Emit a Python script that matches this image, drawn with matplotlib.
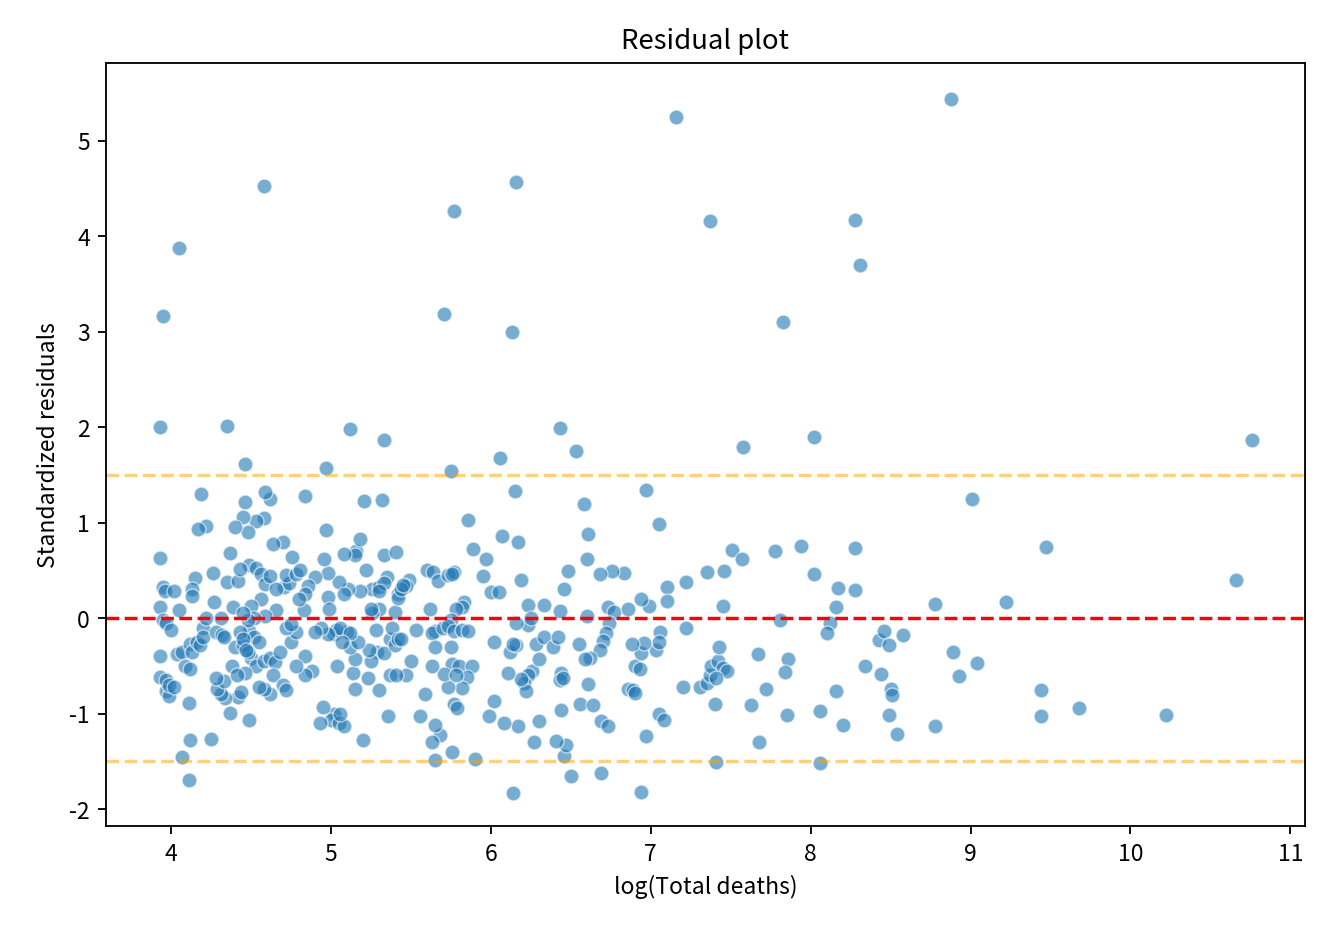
import numpy as np
import matplotlib.pyplot as plt

plt.rcParams['font.family'] = ['Noto Sans CJK KR', 'DejaVu Sans']
plt.rcParams['axes.unicode_minus'] = False

points = [
    # high outliers
    (3.95,3.16),(4.05,3.88),(3.93,2.0),(4.58,4.53),(4.35,2.01),(4.46,1.61),(5.12,1.98),(4.97,1.57),
    (5.33,1.87),(5.71,3.19),(5.77,4.26),(5.75,1.54),(6.16,4.57),(6.13,3.0),(6.06,1.68),(6.43,1.99),
    (6.53,1.75),(7.16,5.25),(7.37,4.16),(7.58,1.79),(7.83,3.1),(8.02,1.9),(8.28,4.17),(8.31,3.7),
    (8.88,5.44),(10.76,1.87),
    # low outliers
    (4.11,-1.7),(4.07,-1.45),(4.25,-1.27),(4.12,-1.28),(5.65,-1.49),(5.9,-1.48),(6.14,-1.83),(6.5,-1.65),
    (6.69,-1.62),(6.94,-1.82),(7.41,-1.51),(8.06,-1.52),(8.54,-1.21),(6.46,-1.44),(5.76,-1.4),(5.68,-1.22),
    (5.63,-1.3),
    # right side
    (8.02,0.46),(8.28,0.73),(7.94,0.75),(7.78,0.7),(8.28,0.29),(8.17,0.32),(8.16,0.12),(7.81,-0.02),
    (8.12,-0.05),(8.1,-0.16),(7.67,-0.38),(7.86,-0.43),(7.84,-0.56),(8.34,-0.5),(8.44,-0.59),(8.43,-0.23),
    (8.46,-0.13),(8.49,-0.28),(8.58,-0.18),(8.5,-0.74),(8.51,-0.81),(8.49,-1.01),(8.16,-0.76),(8.06,-0.97),
    (8.2,-1.12),(7.85,-1.01),(7.72,-0.74),(7.68,-1.3),(7.63,-0.91),(8.78,0.15),(8.78,-1.13),(8.89,-0.35),
    (8.93,-0.61),(9.04,-0.47),(9.01,1.25),(9.22,0.17),(9.47,0.74),(9.44,-0.75),(9.44,-1.03),(9.68,-0.94),
    (10.22,-1.02),(10.66,0.4),
    # 6.5 - 7.6
    (7.06,-0.15),(7.1,0.33),(7.1,0.18),(7.22,0.38),(7.35,0.48),(7.46,0.49),(7.51,0.71),(7.57,0.62),
    (7.45,0.13),(7.22,-0.1),(7.2,-0.72),(7.31,-0.72),(7.35,-0.68),(7.37,-0.6),(7.38,-0.5),(7.42,-0.45),
    (7.43,-0.3),(7.45,-0.52),(7.48,-0.55),(7.41,-0.63),(7.4,-0.9),(7.05,-1.0),(7.08,-1.07),(6.97,-1.23),
    (7.03,-0.33),(7.05,-0.25),(6.99,0.13),(6.94,0.2),(6.97,1.34),(7.05,0.99),(6.83,0.47),(6.76,0.49),
    (6.68,0.46),(6.61,0.88),(6.58,1.2),(6.6,0.62),(6.73,0.12),(6.77,0.06),(6.74,-0.05),(6.72,-0.16),
    (6.7,-0.24),(6.68,-0.33),(6.62,-0.42),(6.59,-0.43),(6.61,-0.69),(6.56,-0.9),(6.64,-0.91),(6.69,-1.08),
    (6.73,-1.13),(6.86,-0.74),(6.89,-0.75),(6.9,-0.78),(6.9,-0.5),(6.93,-0.53),(6.94,-0.37),(6.96,-0.26),
    (6.88,-0.27),(6.86,0.1),(6.55,-0.27),(6.6,0.02),
    # 6 - 6.5
    (6.0,0.27),(6.05,0.27),(5.95,0.44),(5.97,0.62),(5.89,0.72),(5.86,1.03),(6.15,1.33),(6.07,0.86),
    (6.17,0.8),(6.19,0.4),(6.23,0.14),(6.33,0.14),(6.43,0.07),(6.46,0.3),(6.48,0.49),(6.02,-0.25),
    (6.12,-0.35),(6.16,-0.28),(6.14,-0.27),(6.23,-0.07),(6.25,0.0),(6.26,-0.55),(6.23,-0.6),(6.21,-0.68),
    (6.22,-0.76),(6.19,-0.64),(6.28,-0.27),(6.3,-0.43),(6.33,-0.2),(6.39,-0.3),(6.42,-0.2),(6.44,-0.58),
    (6.43,-0.65),(6.45,-0.63),(6.44,-0.96),(6.47,-1.33),(6.41,-1.29),(6.27,-1.3),(6.3,-1.08),(6.17,-1.13),
    (6.08,-1.1),(6.02,-0.87),(5.99,-1.03),(6.11,-0.58),(6.16,-0.05),
    # 5.5 - 6
    (5.6,0.5),(5.64,0.48),(5.67,0.39),(5.73,0.45),(5.77,0.48),(5.76,0.46),(5.83,0.17),(5.82,0.12),
    (5.78,0.1),(5.62,0.1),(5.65,-0.13),(5.63,-0.16),(5.65,-0.3),(5.75,-0.02),(5.7,-0.1),(5.73,-0.08),
    (5.77,-0.13),(5.82,-0.12),(5.86,-0.14),(5.75,-0.3),(5.76,-0.48),(5.8,-0.5),(5.88,-0.5),(5.85,-0.62),
    (5.82,-0.73),(5.73,-0.72),(5.71,-0.59),(5.78,-0.6),(5.77,-0.9),(5.79,-0.94),(5.63,-0.5),(5.59,-0.8),
    (5.56,-1.03),(5.65,-1.12),(5.47,-0.6),(5.5,-0.45),(5.53,-0.12),(5.49,0.4),(5.47,0.34),(5.42,0.25),
    # 5 - 5.5
    (5.26,0.3),(5.3,0.33),(5.33,0.66),(5.35,0.43),(5.33,0.37),(5.3,0.28),(5.3,0.1),(5.26,0.05),
    (5.28,-0.12),(5.29,-0.35),(5.33,-0.37),(5.37,-0.22),(5.38,-0.1),(5.4,0.06),(5.42,0.21),(5.44,0.3),
    (5.45,0.35),(5.41,0.69),(5.4,-0.28),(5.42,-0.22),(5.44,-0.22),(5.37,-0.6),(5.41,-0.6),(5.3,-0.75),
    (5.36,-1.03),(5.23,-0.63),(5.25,-0.45),(5.24,-0.33),(5.2,-1.28),(5.15,-0.74),(5.14,-0.57),(5.15,-0.43),
    (5.12,-0.3),(5.17,-0.25),(5.18,0.28),(5.16,0.7),(5.15,0.66),(5.18,0.83),(5.08,0.67),(5.11,0.3),
    (5.05,0.38),(5.08,0.25),(5.1,-0.15),(5.02,-0.17),(5.03,-0.12),(5.06,-0.1),(5.12,-0.16),(5.07,-0.25),
    (5.04,-0.5),(5.02,-1.0),(5.0,-1.07),(5.05,-1.1),(5.08,-1.13),(5.06,-1.0),(4.95,-0.93),(4.93,-1.1),
    (5.21,1.23),(5.32,1.24),(5.22,0.5),(5.25,0.1),
    # 4.5 - 5
    (4.97,0.92),(4.98,0.47),(4.96,0.62),(4.9,0.43),(4.86,0.34),(4.84,0.25),(4.83,0.08),(4.98,0.22),
    (4.99,0.1),(4.98,-0.17),(4.94,-0.1),(4.9,-0.15),(4.88,-0.55),(4.84,-0.6),(4.84,-0.4),(4.78,-0.5),
    (4.75,-0.25),(4.78,-0.15),(4.72,-0.1),(4.75,-0.06),(4.71,0.33),(4.7,0.8),(4.76,0.64),(4.74,0.37),
    (4.72,0.45),(4.78,0.46),(4.81,0.5),(4.8,0.2),(4.84,1.28),(4.62,1.25),(4.59,1.32),(4.58,1.05),
    (4.53,1.02),(4.48,0.9),(4.49,0.56),(4.53,0.52),(4.56,0.46),(4.59,0.36),(4.62,0.44),(4.64,0.78),
    (4.66,0.3),(4.66,0.09),(4.59,0.02),(4.56,0.2),(4.5,0.13),(4.52,0.0),(4.49,-0.13),(4.48,-0.02),
    (4.52,-0.2),(4.55,-0.25),(4.5,-0.42),(4.53,-0.5),(4.58,-0.45),(4.62,-0.42),(4.65,-0.46),(4.64,-0.6),
    (4.68,-0.35),(4.7,-0.7),(4.72,-0.75),(4.62,-0.8),(4.58,-0.74),(4.55,-0.72),(4.49,-1.07),(4.46,-0.58),
    (4.42,-0.83),(4.4,-0.3),(4.45,-0.28),
    # 4 - 4.5
    (3.93,0.63),(3.95,0.33),(3.96,0.28),(3.93,0.12),(3.95,-0.02),(3.97,-0.05),(4.0,-0.12),(4.02,0.28),
    (4.05,0.08),(3.93,-0.4),(3.93,-0.62),(3.97,-0.65),(3.97,-0.76),(3.99,-0.82),(3.99,-0.7),(4.02,-0.72),
    (4.04,-0.38),(4.07,-0.36),(4.09,-0.5),(4.12,-0.53),(4.11,-0.89),(4.12,-0.27),(4.13,-0.35),(4.15,0.42),
    (4.13,0.3),(4.13,0.23),(4.16,-0.25),(4.18,-0.28),(4.2,-0.1),(4.2,-0.2),(4.22,0.0),(4.26,0.47),
    (4.27,0.17),(4.28,-0.15),(4.32,-0.18),(4.31,0.0),(4.33,-0.2),(4.35,0.38),(4.37,0.68),(4.39,0.12),
    (4.42,0.39),(4.43,0.51),(4.43,-0.15),(4.45,-0.22),(4.48,-0.35),(4.45,0.05),(4.45,1.06),(4.46,1.22),
    (4.4,0.95),(4.22,0.96),(4.17,0.93),(4.19,1.3),(4.37,-0.99),(4.34,-0.84),(4.31,-0.79),(4.29,-0.74),
    (4.33,-0.66),(4.28,-0.63),(4.38,-0.5),(4.41,-0.6),(4.44,-0.77),(4.47,-0.33),
]
log_deaths = np.array([p[0] for p in points])
std_resid = np.array([p[1] for p in points])

fig, ax = plt.subplots(figsize=(8.02, 5.7), dpi=165)
ax.scatter(log_deaths, std_resid, s=42, color='#1f77b4', alpha=0.6, edgecolor='white', linewidth=0.6)
ax.axhline(0, color='red', ls='--', lw=1.5)
ax.axhline(1.5, color='orange', ls='--', lw=1.5, alpha=0.5)
ax.axhline(-1.5, color='orange', ls='--', lw=1.5, alpha=0.5)
ax.set_xlim(3.593, 11.09)
ax.set_ylim(-2.18, 5.82)
ax.set_xlabel('log(Total deaths)')
ax.set_ylabel('Standardized residuals')
ax.set_title('Residual plot')
fig.subplots_adjust(left=0.08, right=0.986, top=0.933, bottom=0.121)
plt.savefig('out.png')
